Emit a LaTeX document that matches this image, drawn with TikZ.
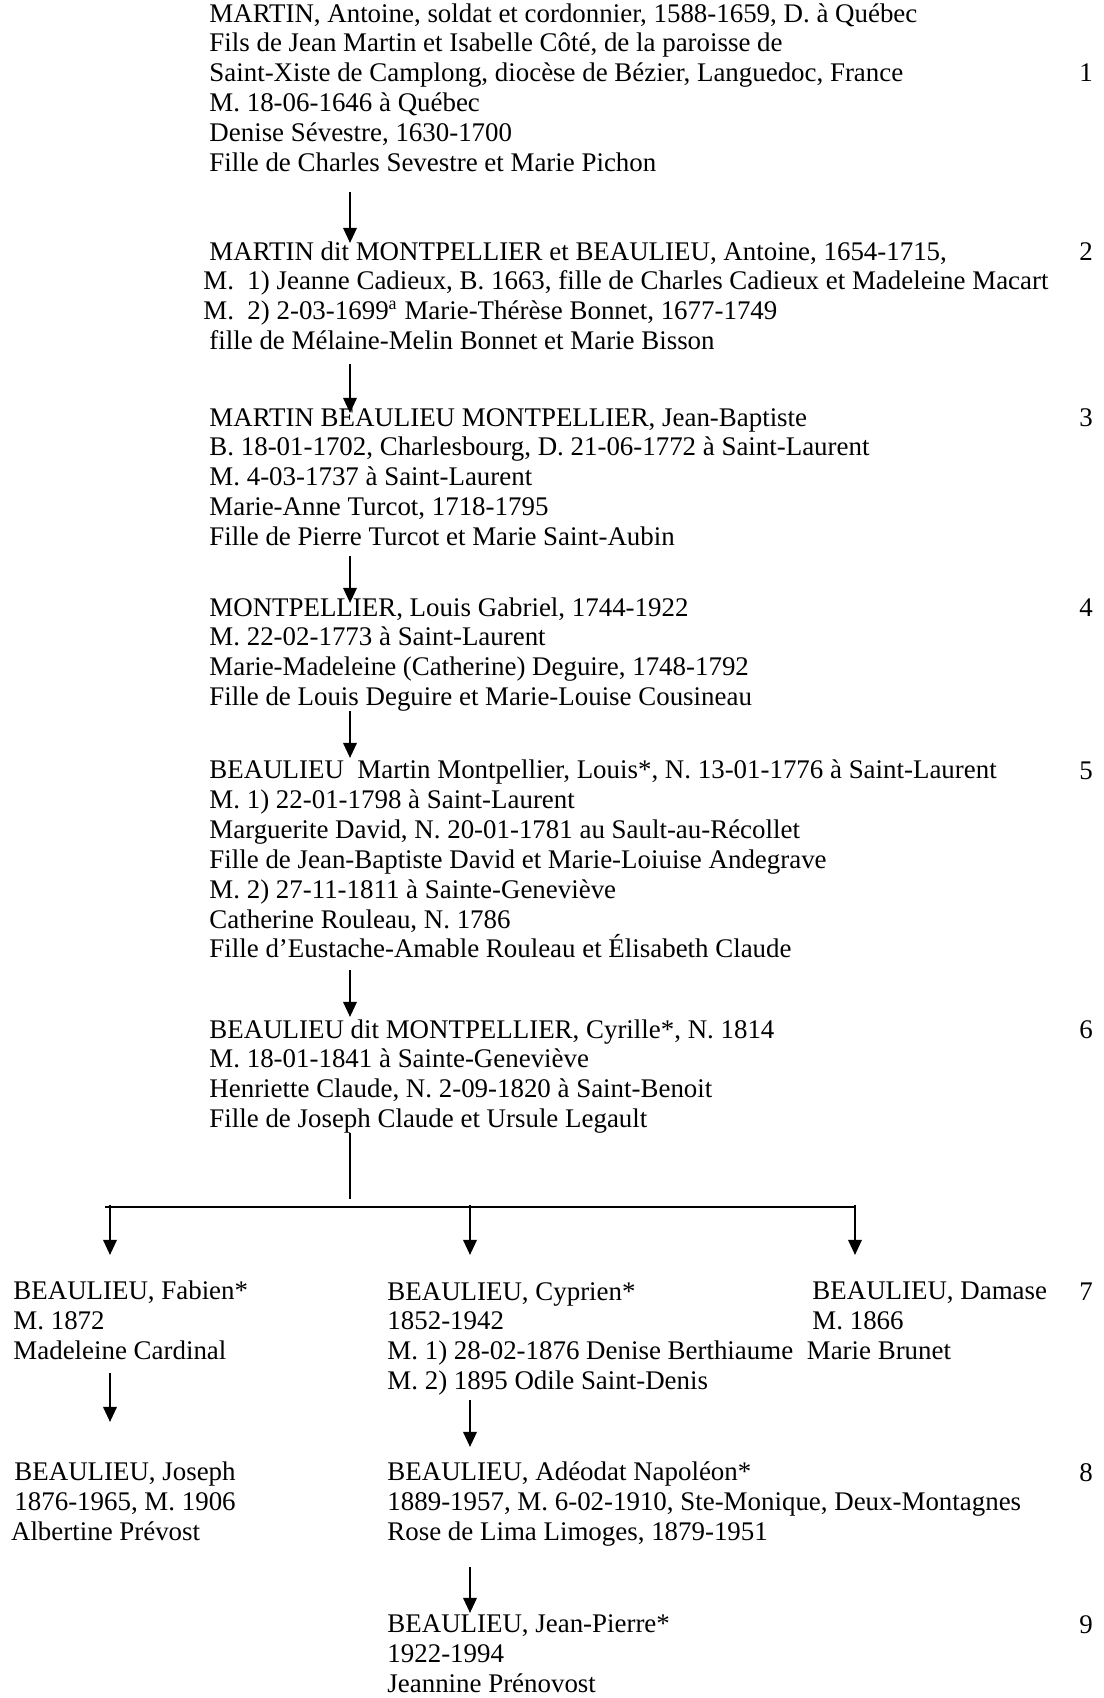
\documentclass[tikz,border=0pt]{standalone}
\usepackage{fontspec}
\setmainfont{Liberation Serif}
\usetikzlibrary{arrows.meta}
\tikzset{
  gen/.style={anchor=base west, inner sep=0pt, align=left, font=\fontsize{12}{13.3}\selectfont},
  desc/.style={-{Triangle[width=6pt,length=6.8pt]}, line width=1.1pt},
}

\begin{document}
\begin{tikzpicture}[x=0.446pt, y=-0.446pt]
  \useasboundingbox (0,0) rectangle (1104,1698);

  % the direct line, one generation per block
  % (a node with several lines sits on the baseline of its last line)
  \node [gen] (gen1) at (209,171.1) {MARTIN, Antoine, soldat et cordonnier, 1588-1659, D. à Québec\\
    Fils de Jean Martin et Isabelle Côté, de la paroisse de\\
    Saint-Xiste de Camplong, diocèse de Bézier, Languedoc, France\\
    M. 18-06-1646 à Québec\\
    Denise Sévestre, 1630-1700\\
    Fille de Charles Sevestre et Marie Pichon};
  \node [gen] (gen2) at (209,349.5) {MARTIN dit MONTPELLIER et BEAULIEU, Antoine, 1654-1715,\\
    \hspace*{-2.7pt}M.\ \ 1) Jeanne Cadieux, B. 1663, fille de Charles Cadieux et Madeleine Macart\\
    \hspace*{-2.7pt}M.\ \ 2) 2-03-1699\textsuperscript{a} Marie-Thérèse Bonnet, 1677-1749\\
    fille de Mélaine-Melin Bonnet et Marie Bisson};
  \node [gen] (gen3) at (209,545.3) {MARTIN BEAULIEU MONTPELLIER, Jean-Baptiste\\
    B. 18-01-1702, Charlesbourg, D. 21-06-1772 à Saint-Laurent\\
    M. 4-03-1737 à Saint-Laurent\\
    Marie-Anne Turcot, 1718-1795\\
    Fille de Pierre Turcot et Marie Saint-Aubin};
  \node [gen] (gen4) at (209,705.5) {MONTPELLIER, Louis Gabriel, 1744-1922\\
    M. 22-02-1773 à Saint-Laurent\\
    Marie-Madeleine (Catherine) Deguire, 1748-1792\\
    Fille de Louis Deguire et Marie-Louise Cousineau};
  \node [gen] (gen5) at (209,957.9) {BEAULIEU\ \ Martin Montpellier, Louis*, N. 13-01-1776 à Saint-Laurent\\
    M. 1) 22-01-1798 à Saint-Laurent\\
    Marguerite David, N. 20-01-1781 au Sault-au-Récollet\\
    Fille de Jean-Baptiste David et Marie-Loiuise Andegrave\\
    M. 2) 27-11-1811 à Sainte-Geneviève\\
    Catherine Rouleau, N. 1786\\
    Fille d’Eustache-Amable Rouleau et Élisabeth Claude};
  \node [gen] (gen6) at (209,1127.5) {BEAULIEU dit MONTPELLIER, Cyrille*, N. 1814\\
    M. 18-01-1841 à Sainte-Geneviève\\
    Henriette Claude, N. 2-09-1820 à Saint-Benoit\\
    Fille de Joseph Claude et Ursule Legault};

  % the three sons
  \node [gen] (fabien) at (13,1359.6) {BEAULIEU, Fabien*\\
    M. 1872\\
    Madeleine Cardinal};
  \node [gen] (cyprien) at (387,1389.5) {BEAULIEU, Cyprien*\\
    1852-1942\\
    M. 1) 28-02-1876 Denise Berthiaume\\
    M. 2) 1895 Odile Saint-Denis};
  \node [gen] (damase) at (812,1359.6) {BEAULIEU, Damase\\
    M. 1866\\
    \hspace*{-2.5pt}Marie Brunet};
  \node [gen] (joseph) at (14,1540.6) {BEAULIEU, Joseph\\
    1876-1965, M. 1906\\
    \hspace*{-1.5pt}Albertine Prévost};
  \node [gen] (adeodat) at (387,1540.6) {BEAULIEU, Adéodat Napoléon*\\
    1889-1957, M. 6-02-1910, Ste-Monique, Deux-Montagnes\\
    Rose de Lima Limoges, 1879-1951};
  \node [gen] (jeanpierre) at (387,1692.6) {BEAULIEU, Jean-Pierre*\\
    1922-1994\\
    Jeannine Prénovost};

  % generation numbers
  \foreach \n/\y in {1/81.6,2/260,3/426,4/616,5/779,6/1038,7/1300,8/1481,9/1633}
  \node [gen, anchor=base] (num\n) at (1086,\y) {\n};

  % descent arrows
  \foreach \i/\x/\a/\b in {1/350/192/243, 2/350/364/413, 3/350/556/603, 4/350/711/758,
    5/350/970/1017, 6/110/1205/1255, 7/470/1205/1255, 8/855/1205/1255,
    9/110/1373/1422, 10/470/1400/1447, 11/470/1567/1613}
  {
    \coordinate (top\i) at (\x,\a);
    \coordinate (tip\i) at (\x,\b);
    \draw [desc] (top\i) -- (tip\i);
  }

  % fork under Cyrille
  \coordinate (stem) at (350,1133);
  \coordinate (fork) at (350,1199);
  \coordinate (left) at (105,1207);
  \coordinate (right) at (856,1207);
  \draw [line width=0.7pt] (stem) -- (fork);
  \draw [line width=0.7pt] (left) -- (right);

\end{tikzpicture}
\end{document}
